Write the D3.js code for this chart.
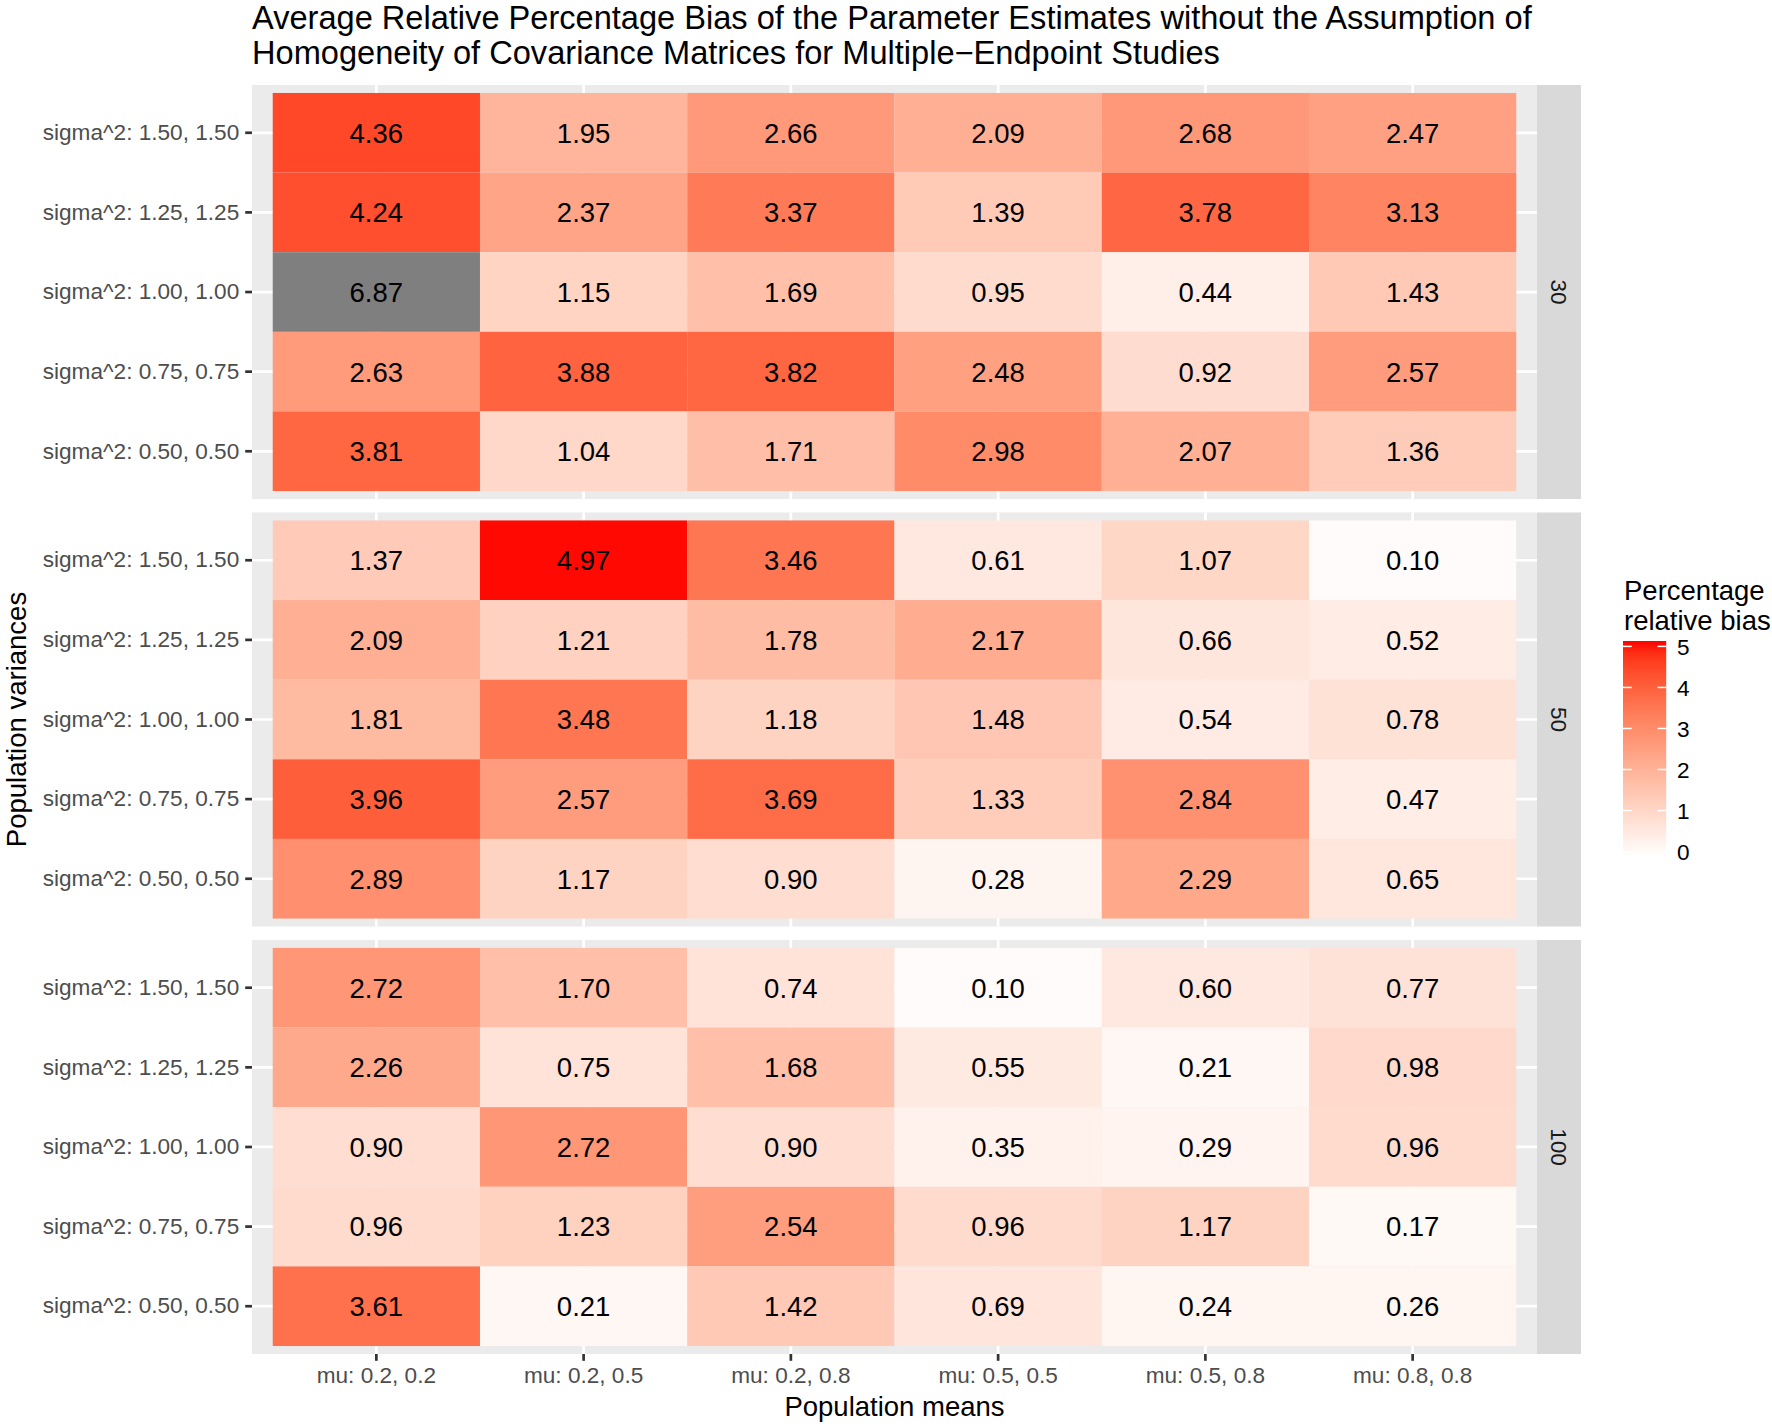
<!DOCTYPE html>
<meta charset="utf-8">
<style>

body {
	margin: 0;
	background: #fff;
}

svg text {
	font-family: "Liberation Sans", Arial, Helvetica, sans-serif;
}

.axis-text {
	fill: #4d4d4d;
	font-size: 22.6px;
}

</style>
<svg width="1772" height="1426"></svg>
<script src="https://cdn.jsdelivr.net/npm/d3@7"></script>
<script>

	// facet rows (sample size)
	var sampleSizes = ["30", "50", "100"];

	// x categories
	var meanLabels = [
		"mu: 0.2, 0.2",
		"mu: 0.2, 0.5",
		"mu: 0.2, 0.8",
		"mu: 0.5, 0.5",
		"mu: 0.5, 0.8",
		"mu: 0.8, 0.8"
	];

	// y categories, top to bottom
	var varianceLabels = [
		"sigma^2: 1.50, 1.50",
		"sigma^2: 1.25, 1.25",
		"sigma^2: 1.00, 1.00",
		"sigma^2: 0.75, 0.75",
		"sigma^2: 0.50, 0.50"
	];

	// rows follow varianceLabels, columns follow meanLabels
	var bias30 = [
		[4.36, 1.95, 2.66, 2.09, 2.68, 2.47],
		[4.24, 2.37, 3.37, 1.39, 3.78, 3.13],
		[6.87, 1.15, 1.69, 0.95, 0.44, 1.43],
		[2.63, 3.88, 3.82, 2.48, 0.92, 2.57],
		[3.81, 1.04, 1.71, 2.98, 2.07, 1.36]
	];

	var bias50 = [
		[1.37, 4.97, 3.46, 0.61, 1.07, 0.10],
		[2.09, 1.21, 1.78, 2.17, 0.66, 0.52],
		[1.81, 3.48, 1.18, 1.48, 0.54, 0.78],
		[3.96, 2.57, 3.69, 1.33, 2.84, 0.47],
		[2.89, 1.17, 0.90, 0.28, 2.29, 0.65]
	];

	var bias100 = [
		[2.72, 1.70, 0.74, 0.10, 0.60, 0.77],
		[2.26, 0.75, 1.68, 0.55, 0.21, 0.98],
		[0.90, 2.72, 0.90, 0.35, 0.29, 0.96],
		[0.96, 1.23, 2.54, 0.96, 1.17, 0.17],
		[3.61, 0.21, 1.42, 0.69, 0.24, 0.26]
	];

	var legendTicks = [0, 1, 2, 3, 4, 5];

	var panelData = [bias30, bias50, bias100];

	var svg = d3.select("svg");

	var panelLeft = 252,
		panelRight = 1537,
		stripWidth = 44;

	var panelScale = d3.scaleBand()
		.domain(sampleSizes)
		.range([85, 1354])
		.paddingInner(0.0314);

	var x = d3.scaleBand()
		.domain(meanLabels)
		.range([panelLeft, panelRight])
		.paddingInner(0)
		.paddingOuter(0.1);

	var y = d3.scaleBand()
		.domain(varianceLabels)
		.range([0, panelScale.bandwidth()])
		.paddingInner(0)
		.paddingOuter(0.1);

	var fill = d3.scaleLinear()
		.domain([0, 5])
		.range(["white", "red"])
		.interpolate(d3.interpolateLab);

	function cellColor(v) {
		return (v < 0 || v > 5) ? "#7f7f7f" : fill(v);
	}

	// title
	svg.append("text")
		.attr("x", panelLeft)
		.attr("y", 29)
		.style("font-size", "32.6px")
		.text("Average Relative Percentage Bias of the Parameter Estimates without the Assumption of");
	svg.append("text")
		.attr("x", panelLeft)
		.attr("y", 64)
		.style("font-size", "32.6px")
		.text("Homogeneity of Covariance Matrices for Multiple\u2212Endpoint Studies");

	var panels = svg.selectAll(".panel")
		.data(sampleSizes)
	  .enter().append("g")
		.attr("class", "panel")
		.attr("transform", function(d) { return "translate(0," + panelScale(d) + ")"; });

	panels.append("rect")
		.attr("x", panelLeft)
		.attr("width", panelRight - panelLeft)
		.attr("height", panelScale.bandwidth())
		.style("fill", "#ebebeb");

	// grid lines
	panels.selectAll(".vgrid")
		.data(meanLabels)
	  .enter().append("line")
		.attr("x1", function(d) { return x(d) + x.bandwidth() / 2; })
		.attr("x2", function(d) { return x(d) + x.bandwidth() / 2; })
		.attr("y1", 0)
		.attr("y2", panelScale.bandwidth())
		.style("stroke", "#fff")
		.style("stroke-width", 2.7);

	panels.selectAll(".hgrid")
		.data(varianceLabels)
	  .enter().append("line")
		.attr("x1", panelLeft)
		.attr("x2", panelRight)
		.attr("y1", function(d) { return y(d) + y.bandwidth() / 2; })
		.attr("y2", function(d) { return y(d) + y.bandwidth() / 2; })
		.style("stroke", "#fff")
		.style("stroke-width", 2.7);

	// tiles
	var cells = panels.selectAll(".cell")
		.data(function(d, i) {
			var out = [];
			panelData[i].forEach(function(row, r) {
				row.forEach(function(v, c) {
					out.push({ mean: meanLabels[c], variance: varianceLabels[r], value: v });
				});
			});
			return out;
		})
	  .enter().append("g")
		.attr("class", "cell");

	cells.append("rect")
		.attr("x", function(d) { return x(d.mean); })
		.attr("y", function(d) { return y(d.variance); })
		.attr("width", x.bandwidth())
		.attr("height", y.bandwidth())
		.style("fill", function(d) { return cellColor(d.value); });

	cells.append("text")
		.attr("x", function(d) { return x(d.mean) + x.bandwidth() / 2; })
		.attr("y", function(d) { return y(d.variance) + y.bandwidth() / 2; })
		.attr("dy", "0.36em")
		.attr("text-anchor", "middle")
		.style("font-size", "27.5px")
		.style("fill", "#000")
		.text(function(d) { return d.value.toFixed(2); });

	// strips
	panels.append("rect")
		.attr("x", panelRight)
		.attr("width", stripWidth)
		.attr("height", panelScale.bandwidth())
		.style("fill", "#d9d9d9");

	panels.append("text")
		.attr("transform", "translate(" + (panelRight + stripWidth / 2) + "," + (panelScale.bandwidth() / 2) + ") rotate(90)")
		.attr("dy", "0.36em")
		.attr("text-anchor", "middle")
		.style("font-size", "22.6px")
		.style("fill", "#1a1a1a")
		.text(function(d) { return d; });

	// y axis per panel
	panels.each(function() {
		var ax = d3.select(this).append("g")
			.attr("transform", "translate(" + panelLeft + ",0)")
			.call(d3.axisLeft(y).tickSize(6.8).tickPadding(6));
		ax.select(".domain").remove();
		ax.selectAll(".tick line").style("stroke", "#333").style("stroke-width", 2.7);
		ax.selectAll(".tick text")
			.attr("class", "axis-text")
			.attr("font-size", null)
			.attr("font-family", null);
	});

	// x axis at the bottom panel
	var bottom = panelScale(sampleSizes[sampleSizes.length - 1]) + panelScale.bandwidth();
	var xAxis = svg.append("g")
		.attr("transform", "translate(0," + bottom + ")")
		.call(d3.axisBottom(x).tickSize(6.8).tickPadding(6));
	xAxis.select(".domain").remove();
	xAxis.selectAll(".tick line").style("stroke", "#333").style("stroke-width", 2.7);
	xAxis.selectAll(".tick text")
		.attr("class", "axis-text")
		.attr("font-size", null)
		.attr("font-family", null);

	// axis titles
	svg.append("text")
		.attr("x", (panelLeft + panelRight) / 2)
		.attr("y", 1416)
		.attr("text-anchor", "middle")
		.style("font-size", "27.5px")
		.text("Population means");

	svg.append("text")
		.attr("transform", "translate(26," + ((panelScale.range()[0] + bottom) / 2) + ") rotate(-90)")
		.attr("text-anchor", "middle")
		.style("font-size", "27.5px")
		.text("Population variances");

	// legend
	var legend = svg.append("g");
	var barX = 1623, barW = 43.2, barTop = 641, barH = 216;
	var binHalf = barH / 20 / 2;

	var legendY = d3.scaleLinear()
		.domain([0, 5])
		.range([barTop + barH - binHalf, barTop + binHalf]);

	legend.append("text")
		.attr("x", barX + 1)
		.attr("y", 600)
		.style("font-size", "27.5px")
		.text("Percentage");
	legend.append("text")
		.attr("x", barX + 1)
		.attr("y", 630)
		.style("font-size", "27.5px")
		.text("relative bias");

	var grad = svg.append("defs").append("linearGradient")
		.attr("id", "biasGrad")
		.attr("x1", 0).attr("y1", 1)
		.attr("x2", 0).attr("y2", 0);
	grad.selectAll("stop")
		.data(d3.range(0, 21))
	  .enter().append("stop")
		.attr("offset", function(d) { return d / 20; })
		.attr("stop-color", function(d) { return fill(d / 4); });

	legend.append("rect")
		.attr("x", barX)
		.attr("y", barTop)
		.attr("width", barW)
		.attr("height", barH)
		.style("fill", "url(#biasGrad)");

	var lt = legend.selectAll(".ltick")
		.data(legendTicks)
	  .enter().append("g")
		.attr("transform", function(d) { return "translate(0," + legendY(d) + ")"; });

	lt.append("line")
		.attr("x1", barX).attr("x2", barX + barW / 5)
		.style("stroke", "#fff").style("stroke-width", 1.5);
	lt.append("line")
		.attr("x1", barX + barW * 4 / 5).attr("x2", barX + barW)
		.style("stroke", "#fff").style("stroke-width", 1.5);
	lt.append("text")
		.attr("x", 1677)
		.attr("dy", "0.36em")
		.style("font-size", "22.6px")
		.style("fill", "#000")
		.text(function(d) { return d; });

</script>
